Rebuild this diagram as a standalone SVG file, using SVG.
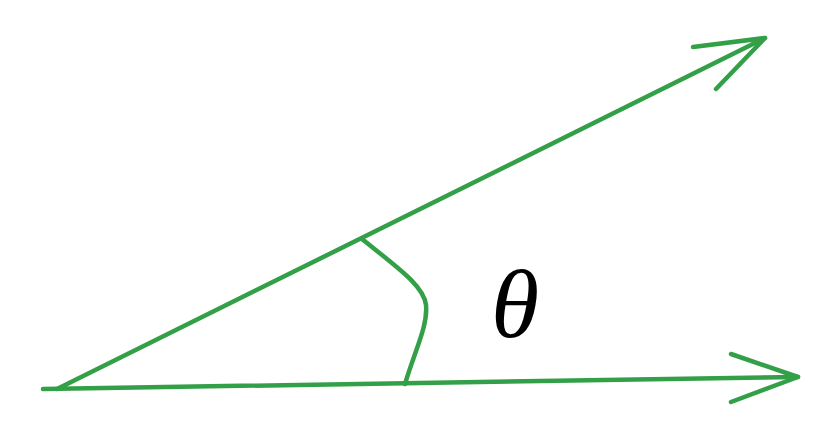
<svg xmlns="http://www.w3.org/2000/svg" width="828" height="430" viewBox="0 0 828 430">
<style>
.g{fill:none;stroke:#33a047;stroke-width:4.5;stroke-linecap:round;stroke-linejoin:round}
.t{font-family:"Liberation Serif","Times New Roman",serif;font-style:italic;fill:#000}
</style>
<rect width="828" height="430" fill="#fff"/>
<g id="connectors">
<g id="vector-a">
<path class="g" d="M57,389 L765,38"/>
<path class="g" d="M693,47 L765,38 L716,89"/>
</g>
<g id="vector-b">
<path class="g" d="M43,389 L798,377"/>
<path class="g" d="M731,354 L798,377 L731,402"/>
</g>
<g id="angle-arc">
<path class="g" d="M362,239 C398,268 424,286 426,305 C428,326 415,350 405,384"/>
</g>
</g>
<g id="label-theta">
<text class="t" x="515" y="337" font-size="98" text-anchor="middle">θ</text>
</g>
</svg>
